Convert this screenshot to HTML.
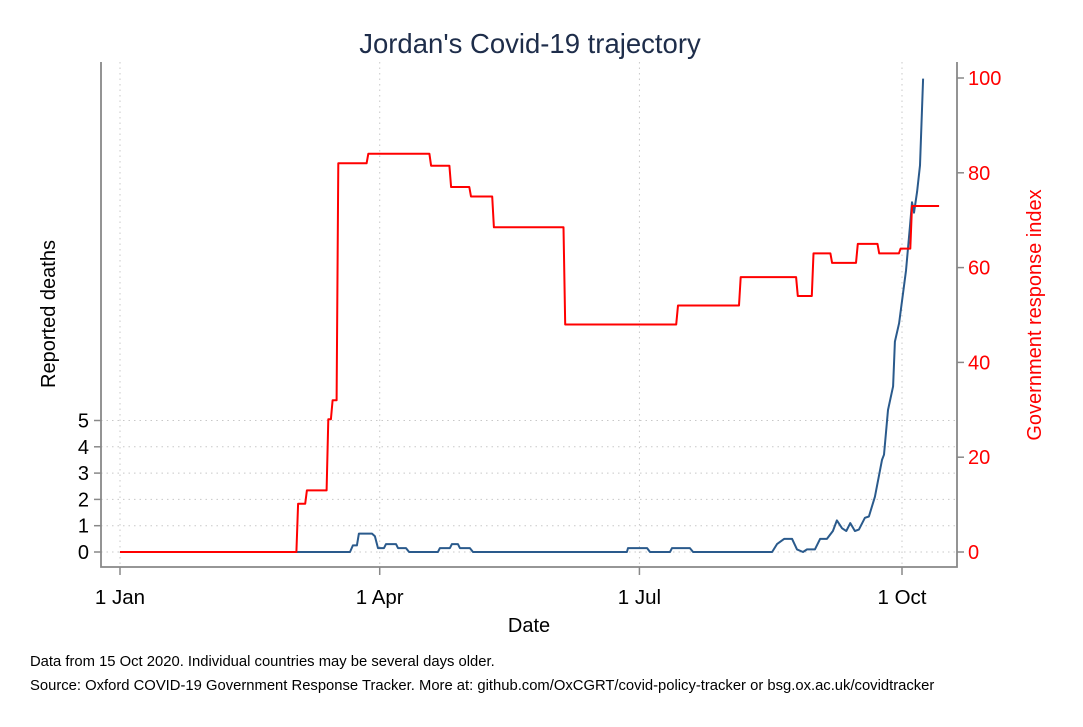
<!DOCTYPE html>
<html><head><meta charset="utf-8"><style>
body{margin:0;background:#fff}
svg text{font-family:"Liberation Sans",Arial,sans-serif}
</style></head><body>
<svg id="chart" width="1083" height="722" viewBox="0 0 1083 722" xmlns="http://www.w3.org/2000/svg">
<rect width="1083" height="722" fill="#fff"/>
<text x="530" y="53" font-size="27.5" fill="#1e2d4a" text-anchor="middle">Jordan's Covid-19 trajectory</text>
<g id="grid"></g>
<g id="axes"></g>
<g id="series"></g>
<text transform="translate(55,314) rotate(-90)" font-size="20" fill="#000" text-anchor="middle">Reported deaths</text>
<text transform="translate(1041,315) rotate(-90)" font-size="20" fill="#ff0000" text-anchor="middle">Government response index</text>
<text x="529" y="632" font-size="20" fill="#000" text-anchor="middle">Date</text>
<text x="30" y="666" font-size="14.8" fill="#000">Data from 15 Oct 2020. Individual countries may be several days older.</text>
<text x="30" y="690" font-size="14.8" fill="#000">Source: Oxford COVID-19 Government Response Tracker. More at: github.com/OxCGRT/covid-policy-tracker or bsg.ox.ac.uk/covidtracker</text>
</svg>
<script>
const xTickLabels=["1 Jan","1 Apr","1 Jul","1 Oct"];
const xTickDays=[0,91,182,274];
const leftTicks=[0,1,2,3,4,5];
const rightTicks=[0,20,40,60,80,100];
const redDays=[0,62.4,65.5,73,74.5,76.5,87,109,116,123,131,156,195.5,217.5,237.5,243,249.5,258.5,266,273.5,277.5];
const redVals=[0,10.2,13,28,32,82,84,81.5,77,75,68.5,48,52,58,54,63,61,65,63,64,73];
const redEndDay=287;
const blueDays=[0,80.6,81.6,83,83.7,88.3,89.3,90.4,92.5,93.2,96.7,97.4,100.2,101.3,111.4,112.1,115.6,116.3,118.4,119.1,122.6,123.7,177.6,178,184.7,185.7,192.7,193.4,199.7,200.8,228.5,230.2,232.7,235.5,237.2,239.3,240.7,243.5,245.3,247.7,249.8,251.2,253,254.5,255.9,257.5,258.9,261,262.4,264.5,267,267.7,269.1,270.9,271.5,273,275.4,276.8,277.5,278.2,279.3,280.3,281.4];
const blueVals=[0,0,0.25,0.25,0.7,0.7,0.6,0.15,0.15,0.3,0.3,0.15,0.15,0,0,0.15,0.15,0.3,0.3,0.15,0.15,0,0,0.15,0.15,0,0,0.15,0.15,0,0,0.3,0.5,0.5,0.1,0,0.1,0.1,0.5,0.5,0.8,1.2,0.9,0.8,1.1,0.8,0.85,1.3,1.35,2.1,3.5,3.7,5.4,6.3,8.0,8.7,10.7,12.4,13.3,12.9,13.7,14.7,18.0];
const ns="http://www.w3.org/2000/svg";
const X0=101,X1=957,YT=62,YB=567;
const xS=d=>120+d*2.854;
const yL=v=>552-v*26.3;
const yR=v=>552-v*4.74;
const grid=document.getElementById('grid'),axes=document.getElementById('axes'),series=document.getElementById('series');
function mk(tag,attrs,parent){const e=document.createElementNS(ns,tag);for(const k in attrs)e.setAttribute(k,attrs[k]);parent.appendChild(e);return e;}
xTickDays.forEach((d,i)=>{
 const g=mk('line',{x1:xS(d),x2:xS(d),y1:YT,y2:YB,stroke:'#c8c8c8','stroke-width':1,'stroke-dasharray':'1.5,4'},grid);
 
 
 const t=mk('line',{x1:xS(d),x2:xS(d),y1:YB,y2:YB+8,stroke:'#888','stroke-width':1.5},axes);
 
 
 const l=mk('text',{x:xS(d),y:604,'font-size':20.5,'text-anchor':'middle',fill:'#000'},axes);
 l.textContent=xTickLabels[i];
 
 
});
leftTicks.forEach(v=>{
 const g=mk('line',{x1:X0,x2:X1,y1:yL(v),y2:yL(v),stroke:'#c8c8c8','stroke-width':1,'stroke-dasharray':'1.5,4'},grid);
 
 
 const t=mk('line',{x1:X0-7,x2:X0,y1:yL(v),y2:yL(v),stroke:'#888','stroke-width':1.5},axes);
 
 
 const l=mk('text',{x:89,y:yL(v)+7,'font-size':20,'text-anchor':'end',fill:'#000'},axes);
 l.textContent=v;
 
 
});
rightTicks.forEach(v=>{
 const t=mk('line',{x1:X1,x2:X1+7,y1:yR(v),y2:yR(v),stroke:'#888','stroke-width':1.5},axes);
 
 
 const l=mk('text',{x:968,y:yR(v)+7,'font-size':20,fill:'#ff0000'},axes);
 l.textContent=v;
 
 
});
const al=mk('path',{d:`M${X0} ${YT}V${YB}H${X1}V${YT}`,fill:'none',stroke:'#888','stroke-width':1.8},axes);


const bp=blueDays.map((d,i)=>`${xS(d).toFixed(1)},${yL(blueVals[i]).toFixed(1)}`).join(' ');
const bl=mk('polyline',{points:bp,fill:'none',stroke:'#2a5a8c','stroke-width':2,'stroke-linejoin':'round'},series);


const rpts=[];
redDays.forEach((d,i)=>{
 const next=i<redDays.length-1?redDays[i+1]:redEndDay;
 rpts.push(`${xS(d).toFixed(1)},${yR(redVals[i]).toFixed(1)}`);
 rpts.push(`${xS(i<redDays.length-1?next-0.6:next).toFixed(1)},${yR(redVals[i]).toFixed(1)}`);
});
const rl=mk('polyline',{points:rpts.join(' '),fill:'none',stroke:'#ff0000','stroke-width':2,'stroke-linejoin':'round'},series);


</script>
</body></html>
